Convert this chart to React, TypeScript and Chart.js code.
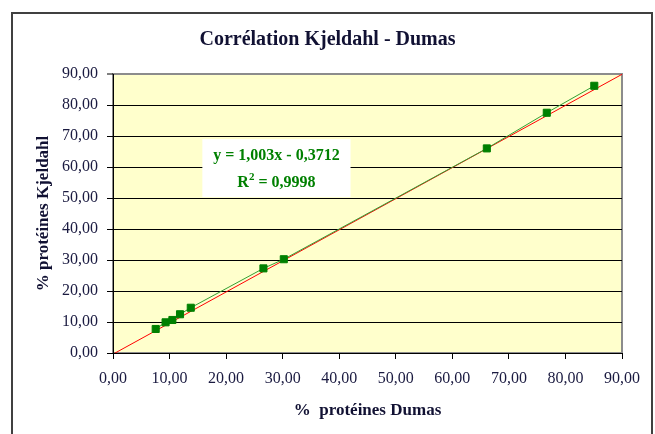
import React, { useEffect, useRef } from "react";
import { Chart, registerables } from "chart.js";

Chart.register(...registerables);

const dumas: number[] = [7.55, 9.3, 10.5, 11.85, 13.75, 26.6, 30.2, 66.1, 76.7, 85.1];
const kjeldahl: number[] = [7.75, 9.9, 10.65, 12.5, 14.6, 27.3, 30.25, 66.0, 77.5, 86.2];
const trendX: number[] = [0, 90];
const slope = 1.003;
const intercept = -0.3712;
const equationText = "y = 1,003x - 0,3712";
const r2Text = "0,9998";
const titleText = "Corrélation Kjeldahl - Dumas";
const xTitle = "%  protéines Dumas";
const yTitle = "% protéines Kjeldahl";

const fmt = (v: number) => v.toFixed(2).replace(".", ",");

const framePlugin = {
  id: "frame",
  beforeDraw(chart: any) {
    const { ctx, chartArea: a } = chart;
    ctx.save();
    ctx.fillStyle = "#ffffff";
    ctx.fillRect(0, 0, chart.width, chart.height);
    ctx.strokeStyle = "#404040";
    ctx.lineWidth = 2;
    ctx.strokeRect(12, 13, 640, 440);
    ctx.fillStyle = "#ffffcc";
    ctx.fillRect(a.left, a.top, a.right - a.left, a.bottom - a.top);
    ctx.strokeStyle = "#8c8c8c";
    ctx.lineWidth = 2;
    ctx.strokeRect(a.left, a.top, a.right - a.left, a.bottom - a.top);
    ctx.restore();
  },
  afterDatasetsDraw(chart: any) {
    const { ctx } = chart;
    const xs = chart.scales.x;
    const ys = chart.scales.y;
    const l = xs.getPixelForValue(15.8);
    const r = xs.getPixelForValue(42.0);
    const t = ys.getPixelForValue(69.0);
    const b = ys.getPixelForValue(50.3);
    ctx.save();
    ctx.fillStyle = "#ffffff";
    ctx.fillRect(l, t, r - l, b - t);
    ctx.fillStyle = "#008000";
    ctx.textAlign = "center";
    ctx.textBaseline = "middle";
    ctx.font = "bold 16px 'Liberation Serif', serif";
    const cx = (l + r) / 2;
    ctx.fillText(equationText, cx, t + 17);
    const base = "R";
    const rest = " = " + r2Text;
    const wR = ctx.measureText(base).width;
    ctx.font = "bold 11px 'Liberation Serif', serif";
    const w2 = ctx.measureText("2").width;
    ctx.font = "bold 16px 'Liberation Serif', serif";
    const wRest = ctx.measureText(rest).width;
    const total = wR + w2 + wRest;
    const x0 = cx - total / 2;
    const y2 = t + 44;
    ctx.textAlign = "left";
    ctx.fillText(base, x0, y2);
    ctx.font = "bold 11px 'Liberation Serif', serif";
    ctx.fillText("2", x0 + wR, y2 - 6);
    ctx.font = "bold 16px 'Liberation Serif', serif";
    ctx.fillText(rest, x0 + wR + w2, y2);
    ctx.restore();
  },
};

export default function App() {
  const ref = useRef<HTMLCanvasElement | null>(null);
  useEffect(() => {
    if (!ref.current) return;
    const points = dumas.map((x, i) => ({ x, y: kjeldahl[i] }));
    const trend = trendX.map((x) => ({ x, y: slope * x + intercept }));
    const chart = new Chart(ref.current, {
      type: "scatter",
      data: {
        datasets: [
          {
            label: "Mesures",
            data: points,
            showLine: true,
            borderColor: "#33a033",
            borderWidth: 1,
            backgroundColor: "#008000",
            pointStyle: "rect",
            pointRadius: 5,
            pointBorderColor: "#008000",
            pointBackgroundColor: "#008000",
          },
          {
            label: "Linéaire",
            data: trend,
            showLine: true,
            borderColor: "#ff0000",
            borderWidth: 1,
            pointRadius: 0,
          },
        ],
      },
      options: {
        animation: false,
        responsive: false,
        layout: { padding: { left: 0, right: 0, top: 0, bottom: 0 } },
        plugins: {
          legend: { display: false },
          tooltip: { enabled: false },
          title: {
            display: true,
            text: titleText,
            color: "#111133",
            font: { family: "'Liberation Serif', serif", size: 20, weight: "bold" },
            padding: { top: 28, bottom: 22 },
          },
        },
        scales: {
          x: {
            type: "linear",
            min: 0,
            max: 90,
            afterFit: (s: any) => {
              s.height = 81;
            },
            ticks: {
              stepSize: 10,
              callback: (v: any) => fmt(Number(v)),
              color: "#1a1a40",
              font: { family: "'Liberation Serif', serif", size: 16 },
              padding: 10,
              maxRotation: 0,
            },
            grid: {
              drawOnChartArea: false,
              drawTicks: true,
              tickLength: 6,
              tickColor: "#000000",
            },
            border: { color: "#000000", width: 1 },
            title: {
              display: true,
              text: xTitle,
              color: "#111133",
              font: { family: "'Liberation Serif', serif", size: 17, weight: "bold" },
              padding: { top: 0, bottom: 13 },
            },
          },
          y: {
            type: "linear",
            min: 0,
            max: 90,
            afterFit: (s: any) => {
              s.width = 113;
            },
            ticks: {
              stepSize: 10,
              callback: (v: any) => fmt(Number(v)),
              color: "#1a1a40",
              font: { family: "'Liberation Serif', serif", size: 16 },
              padding: 9,
            },
            grid: {
              color: (c: any) => (c.tick && c.tick.value === 90 ? "#8c8c8c" : "#000000"),
              lineWidth: (c: any) => (c.tick && c.tick.value === 90 ? 2 : 1),
              drawTicks: true,
              tickLength: 6,
              tickColor: "#000000",
              tickWidth: 1,
            },
            border: { color: "#000000", width: 1 },
            title: {
              display: true,
              text: yTitle,
              color: "#111133",
              font: { family: "'Liberation Serif', serif", size: 17, weight: "bold" },
              padding: { top: 33, bottom: 0 },
            },
          },
          yRight: {
            type: "linear",
            position: "right",
            display: true,
            min: 0,
            max: 1,
            afterFit: (s: any) => {
              s.width = 33;
            },
            grid: { display: false, drawTicks: false },
            ticks: { display: false },
            border: { display: false },
          },
        },
      },
      plugins: [framePlugin],
    });
    return () => chart.destroy();
  }, []);
  return (
    <div style={{ position: "absolute", left: 0, top: 0, width: 655, height: 434 }}>
      <canvas ref={ref} width={655} height={434} style={{ display: "block" }} />
    </div>
  );
}
